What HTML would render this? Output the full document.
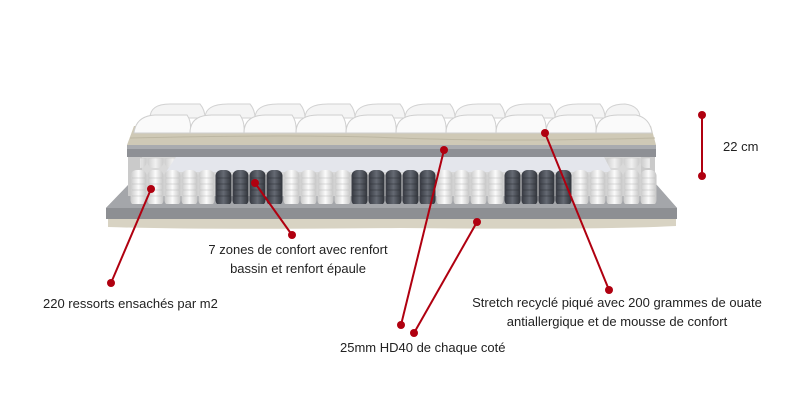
<!DOCTYPE html>
<html><head><meta charset="utf-8"><style>
html,body{margin:0;padding:0;background:#fff;width:800px;height:400px;overflow:hidden}
svg text{font-family:"Liberation Sans",sans-serif;font-size:13px;fill:#222}
</style></head><body>
<svg width="800" height="400" viewBox="0 0 800 400" xmlns="http://www.w3.org/2000/svg">
<defs>
<linearGradient id="wsp" x1="0" x2="1"><stop offset="0" stop-color="#c9c9c9"/><stop offset=".5" stop-color="#fbfbfb"/><stop offset="1" stop-color="#c4c4c4"/></linearGradient>
<linearGradient id="dsp" x1="0" x2="1"><stop offset="0" stop-color="#353840"/><stop offset=".5" stop-color="#656a73"/><stop offset="1" stop-color="#30333a"/></linearGradient>
<pattern id="W" x="130" y="169" width="17" height="38" patternUnits="userSpaceOnUse"><rect x="0.5" y="1" width="16" height="36" rx="6" fill="url(#wsp)"/><path d="M2 9h13M2 15h13M2 21h13M2 27h13" stroke="#bbb" stroke-width=".6"/></pattern>
<pattern id="D" x="130" y="169" width="17" height="38" patternUnits="userSpaceOnUse"><rect x="0.5" y="1" width="16" height="36" rx="6" fill="url(#dsp)"/><path d="M2 9h13M2 15h13M2 21h13M2 27h13" stroke="#2a2d33" stroke-width=".6"/></pattern>
</defs>
<!-- base beige -->
<path d="M108 218 L676 218 L676 226 Q600 230 400 228 Q200 230 108 227 Z" fill="#d8d3c3"/>
<!-- bottom gray slab -->
<path d="M130 183 L655 183 L677 208 L677 219 L106 219 L106 208 Z" fill="#8d8f93"/>
<path d="M130 183 L655 183 L677 208 L106 208 Z" fill="#a4a6aa"/>
<!-- back cavity -->
<rect x="128" y="156" width="527" height="40" fill="#d9d9d9"/>
<rect x="128" y="156" width="14" height="40" fill="#cacaca"/>
<rect x="641" y="156" width="14" height="40" fill="#cacaca"/>
<rect x="140" y="158" width="40" height="18" fill="url(#W)" opacity=".7"/>
<rect x="605" y="158" width="45" height="18" fill="url(#W)" opacity=".7"/>
<!-- white sheet -->
<path d="M176 157 L604 157 L612 172 L166 172 Z" fill="#e4e6ec"/>
<!-- springs -->
<rect x="130" y="169" width="85" height="38" fill="url(#W)"/>
<rect x="215" y="169" width="68" height="38" fill="url(#D)"/>
<rect x="283" y="169" width="68" height="38" fill="url(#W)"/>
<rect x="351" y="169" width="85" height="38" fill="url(#D)"/>
<rect x="436" y="169" width="68" height="38" fill="url(#W)"/>
<rect x="504" y="169" width="68" height="38" fill="url(#D)"/>
<rect x="572" y="169" width="85" height="38" fill="url(#W)"/>
<!-- front slab top strip -->
<path d="M124 204 L660 204 L677 208 L106 208 Z" fill="#a4a6aa"/>
<!-- gray top band -->
<rect x="127" y="145" width="529" height="12" fill="#8e9095"/>
<rect x="127" y="145" width="529" height="4" fill="#a9abaf"/>
<!-- beige foam -->
<path d="M134 126 L651 126 L656 145 L127 145 Z" fill="#cfc9b6"/>
<path d="M130 138 Q300 134 400 138 T655 138" stroke="#bdb7a3" fill="none"/>
<!-- quilted top: back row -->
<g fill="#f4f4f4" stroke="#d2d2d2" stroke-width="1">
<path d="M150 118 Q150 104 170 104 L200 104 Q205 110 205 118 Z"/>
<path d="M205 118 Q205 104 228 104 L250 104 Q255 110 255 118 Z"/>
<path d="M255 118 Q255 104 278 104 L300 104 Q305 110 305 118 Z"/>
<path d="M305 118 Q305 104 328 104 L350 104 Q355 110 355 118 Z"/>
<path d="M355 118 Q355 104 378 104 L400 104 Q405 110 405 118 Z"/>
<path d="M405 118 Q405 104 428 104 L450 104 Q455 110 455 118 Z"/>
<path d="M455 118 Q455 104 478 104 L500 104 Q505 110 505 118 Z"/>
<path d="M505 118 Q505 104 528 104 L550 104 Q555 110 555 118 Z"/>
<path d="M555 118 Q555 104 578 104 L600 104 Q605 110 605 118 Z"/>
<path d="M605 118 Q605 104 625 104 Q640 106 640 118 Z"/>
</g>
<!-- front row -->
<g fill="#fafafa" stroke="#cfcfcf" stroke-width="1">
<path d="M134 133 Q136 116 155 115 L187 115 Q192 122 190 133 Z"/>
<path d="M190 133 Q190 115 212 115 L240 115 Q245 122 244 133 Z"/>
<path d="M244 133 Q244 115 266 115 L292 115 Q297 122 296 133 Z"/>
<path d="M296 133 Q296 115 318 115 L342 115 Q347 122 346 133 Z"/>
<path d="M346 133 Q346 115 368 115 L392 115 Q397 122 396 133 Z"/>
<path d="M396 133 Q396 115 418 115 L442 115 Q447 122 446 133 Z"/>
<path d="M446 133 Q446 115 468 115 L492 115 Q497 122 496 133 Z"/>
<path d="M496 133 Q496 115 518 115 L542 115 Q547 122 546 133 Z"/>
<path d="M546 133 Q546 115 568 115 L592 115 Q597 122 596 133 Z"/>
<path d="M596 133 Q596 115 618 115 L636 115 Q650 118 652 133 Z"/>
</g>
<!-- annotations -->
<g stroke="#b00010" stroke-width="2" fill="none">
<line x1="151" y1="189" x2="111" y2="283"/>
<line x1="255" y1="183" x2="292" y2="235"/>
<line x1="444" y1="150" x2="401" y2="325"/>
<line x1="477" y1="222" x2="414" y2="333"/>
<line x1="545" y1="133" x2="609" y2="290"/>
<line x1="702" y1="115" x2="702" y2="176"/>
</g>
<g fill="#b00010">
<circle cx="151" cy="189" r="4"/><circle cx="255" cy="183" r="4"/><circle cx="444" cy="150" r="4"/><circle cx="545" cy="133" r="4"/><circle cx="477" cy="222" r="4"/><circle cx="702" cy="115" r="4"/><circle cx="702" cy="176" r="4"/><circle cx="111" cy="283" r="4"/><circle cx="292" cy="235" r="4"/><circle cx="401" cy="325" r="4"/><circle cx="414" cy="333" r="4"/><circle cx="609" cy="290" r="4"/>
</g>
<text x="723" y="151">22 cm</text>
<text x="298" y="254" text-anchor="middle">7 zones de confort avec renfort</text>
<text x="298" y="273" text-anchor="middle">bassin et renfort épaule</text>
<text x="43" y="308">220 ressorts ensachés par m2</text>
<text x="617" y="307" text-anchor="middle">Stretch recyclé piqué avec 200 grammes de ouate</text>
<text x="617" y="326" text-anchor="middle">antiallergique et de mousse de confort</text>
<text x="340" y="352">25mm HD40 de chaque coté</text>
</svg>
</body></html>
